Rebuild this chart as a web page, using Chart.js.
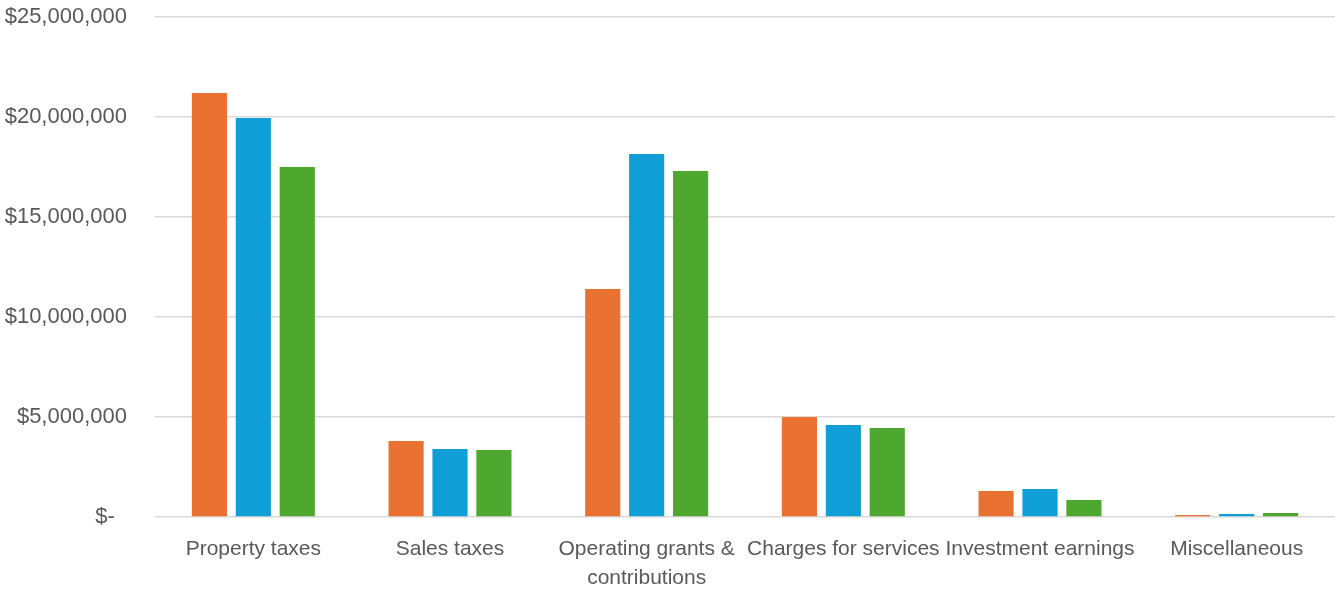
<!DOCTYPE html>
<html>
<head>
<meta charset="utf-8">
<script src="https://cdn.jsdelivr.net/npm/chart.js@4/dist/chart.umd.min.js"></script>
<style>
  html, body { margin: 0; padding: 0; background: #ffffff; overflow: hidden; }
  canvas { display: block; }
</style>
</head>
<body>
<canvas id="graph-revenus" width="1335" height="589"></canvas>
<script>
// ==================== données ===================
const categories = [
  "Property taxes",
  "Sales taxes",
  ["Operating grants &", "contributions"],
  "Charges for services",
  "Investment earnings",
  "Miscellaneous",
];
const serieOrange = [21200000, 3800000, 11400000, 5000000, 1300000, 100000];
const serieBleu = [19950000, 3400000, 18150000, 4600000, 1400000, 150000];
const serieVert = [17500000, 3350000, 17300000, 4450000, 850000, 200000];
const yTicks = [0, 5000000, 10000000, 15000000, 20000000, 25000000];

// ==================== graphique ===================
const ctx = document.getElementById("graph-revenus").getContext("2d");
const textColor = "#595959";
const fontFamily = "'Liberation Sans', Arial, sans-serif";

function makeDataset(label, data, color) {
  return {
    label: label,
    data: data,
    backgroundColor: color,
    borderWidth: 0,
    barPercentage: 0.8,
    categoryPercentage: 0.67,
  };
}

let chartRevenus = new Chart(ctx, {
  type: "bar",
  data: {
    labels: categories,
    datasets: [
      makeDataset("Series 1", serieOrange, "#E97132"),
      makeDataset("Series 2", serieBleu, "#0F9ED5"),
      makeDataset("Series 3", serieVert, "#4EA72E"),
    ],
  },
  options: {
    responsive: false,
    animation: false,
    devicePixelRatio: 1,
    layout: {
      padding: { left: 5, right: 0, top: 0, bottom: 0 },
    },
    plugins: {
      legend: { display: false },
      tooltip: { enabled: false },
    },
    scales: {
      x: {
        grid: { display: false, drawTicks: false },
        border: { display: false },
        afterFit: (axis) => {
          axis.height = 72;
        },
        ticks: {
          color: textColor,
          font: { family: fontFamily, size: 21, lineHeight: 1.38 },
          padding: 18,
          maxRotation: 0,
          autoSkip: false,
        },
      },
      y: {
        min: 0,
        max: 25000000,
        afterBuildTicks: (axis) => {
          axis.ticks = yTicks.map((v) => ({ value: v }));
        },
        afterFit: (axis) => {
          axis.width = 150;
          axis.paddingTop = 17;
          axis.paddingBottom = 0;
        },
        grid: { color: "#d9d9d9", lineWidth: 1.5, drawTicks: false },
        border: { display: false },
        ticks: {
          color: textColor,
          font: { family: fontFamily, size: 22 },
          padding: 28,
          callback: (value) =>
            value === 0 ? "$-  " : "$" + value.toLocaleString("en-US"),
        },
      },
    },
  },
});
</script>
</body>
</html>
